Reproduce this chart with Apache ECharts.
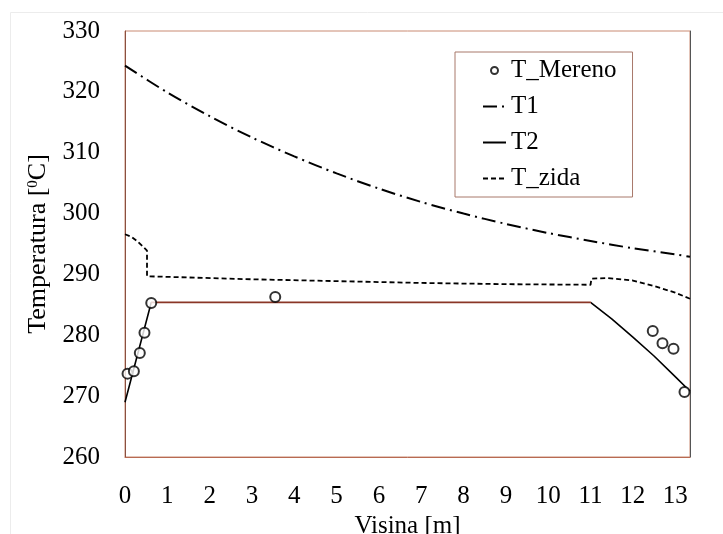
<!DOCTYPE html>
<html><head><meta charset="utf-8">
<script src="https://cdn.jsdelivr.net/npm/echarts@6/dist/echarts.min.js"></script>
<style>html,body{margin:0;padding:0;background:#fff}#c{width:723px;height:534px}</style>
</head><body><div id="c"></div>
<script>
// Measured points (T_Mereno)
var measX = [0.06, 0.21, 0.35, 0.46, 0.62, 3.55, 12.47, 12.7, 12.96, 13.22];
var measY = [273.7, 274.1, 277.1, 280.4, 285.3, 286.3, 280.7, 278.7, 277.8, 270.7];
// T1
var t1X = [0, 1, 2, 3, 4, 5, 6, 7, 8, 9, 10, 11, 12, 13, 13.35];
var t1Y = [324.3, 319.9, 316.0, 312.5, 309.4, 306.6, 304.1, 301.9, 300.0, 298.3, 296.8, 295.5, 294.3, 293.3, 292.9];
// T2
var t2X = [0, 0.62, 11.0, 11.5, 12.0, 12.5, 13.0, 13.35];
var t2Y = [269.0, 285.4, 285.4, 282.7, 279.7, 276.6, 273.2, 270.8];
// T_zida
var tzX = [0, 0.15, 0.3, 0.45, 0.52, 0.52, 1, 3, 5, 7, 9, 11.0, 11.02, 11.4, 12.0, 12.5, 13.0, 13.35];
var tzY = [296.6, 296.2, 295.4, 294.4, 293.9, 289.7, 289.6, 289.2, 288.9, 288.6, 288.4, 288.3, 289.3, 289.4, 289.0, 288.1, 287.0, 286.0];
var xTicks = [0,1,2,3,4,5,6,7,8,9,10,11,12,13];

function zip(a,b){return a.map(function(v,i){return [v,b[i]];});}
var FONT = 'Liberation Serif';
var FS = 25;
var chart = echarts.init(document.getElementById('c'), null, {renderer:'canvas'});
chart.setOption({
  animation:false,
  backgroundColor:'#fff',
  textStyle:{fontFamily:FONT},
  grid:{left:125, right:33, top:31, bottom:77, show:true, borderColor:'#c98a72', borderWidth:1,
        containLabel:false, outerBoundsMode:'none'},
  graphic:[{type:'rect', left:8, top:10, shape:{width:760, height:600}, style:{fill:'none', stroke:'#ececec', lineWidth:1}, silent:true}],
  legend:{
    orient:'vertical', left:455, top:52, width:177,
    borderColor:'#a8786a', borderWidth:1, padding:[6, 16, 6, 27], itemGap:11,
    itemWidth:23, itemHeight:7,
    textStyle:{fontFamily:FONT, fontSize:FS, color:'#000', lineHeight:25},
    data:[{name:'T_Mereno'},
          {name:'T1', itemStyle:{opacity:0}},
          {name:'T2', itemStyle:{opacity:0}},
          {name:'T_zida', itemStyle:{opacity:0}}]
  },
  xAxis:{
    type:'value', min:0, max:13.35, interval:1,
    name:'Visina [m]', nameLocation:'middle', nameGap:52,
    nameTextStyle:{fontFamily:FONT, fontSize:FS, color:'#000'},
    axisLine:{show:true, lineStyle:{color:'#b86a52'}},
    axisTick:{show:false}, splitLine:{show:false},
    axisLabel:{fontFamily:FONT, fontSize:FS, color:'#000', margin:27,
      formatter:function(v){return xTicks.indexOf(v)>=0 ? String(v) : '';}}
  },
  yAxis:[{
    type:'value', min:260, max:330, interval:10,
    name:'Temperatura [{sup|0}C]', nameLocation:'middle', nameGap:72, nameRotate:90,
    nameTextStyle:{fontFamily:FONT, fontSize:26, color:'#000',
      rich:{sup:{fontFamily:FONT, fontSize:15, verticalAlign:'top', padding:[0,0,9,0]}}},
    axisLine:{show:true, lineStyle:{color:'#8a5040'}},
    axisTick:{show:false}, splitLine:{show:false},
    axisLabel:{fontFamily:FONT, fontSize:FS, color:'#000', margin:25}
  },{
    type:'value', min:260, max:330, interval:10, position:'right',
    axisLine:{show:true, lineStyle:{color:'#555'}},
    axisTick:{show:false}, splitLine:{show:false}, axisLabel:{show:false}
  }],
  visualMap:{show:false, type:'piecewise', seriesIndex:2, dimension:0,
    pieces:[{lt:0.62, color:'#000'},{gte:0.62, lte:11.0, color:'#8a3626'},{gt:11.0, color:'#000'}]},
  series:[
    {name:'T_Mereno', type:'scatter', data:zip(measX, measY), symbol:'emptyCircle', symbolSize:10,
      itemStyle:{color:'#000', borderColor:'#000', borderWidth:1.8}, z:5},
    {name:'T1', type:'line', data:zip(t1X, t1Y), symbol:'none', smooth:0.3, color:'#000',
      lineStyle:{color:'#000', width:2, type:[14,5,2,5]}},
    {name:'T2', type:'line', data:zip(t2X, t2Y), symbol:'none', color:'#000',
      lineStyle:{width:1.6}},
    {name:'T_zida', type:'line', data:zip(tzX, tzY), symbol:'none', color:'#000',
      lineStyle:{color:'#000', width:1.8, type:[5,3]}}
  ]
});
</script></body></html>
